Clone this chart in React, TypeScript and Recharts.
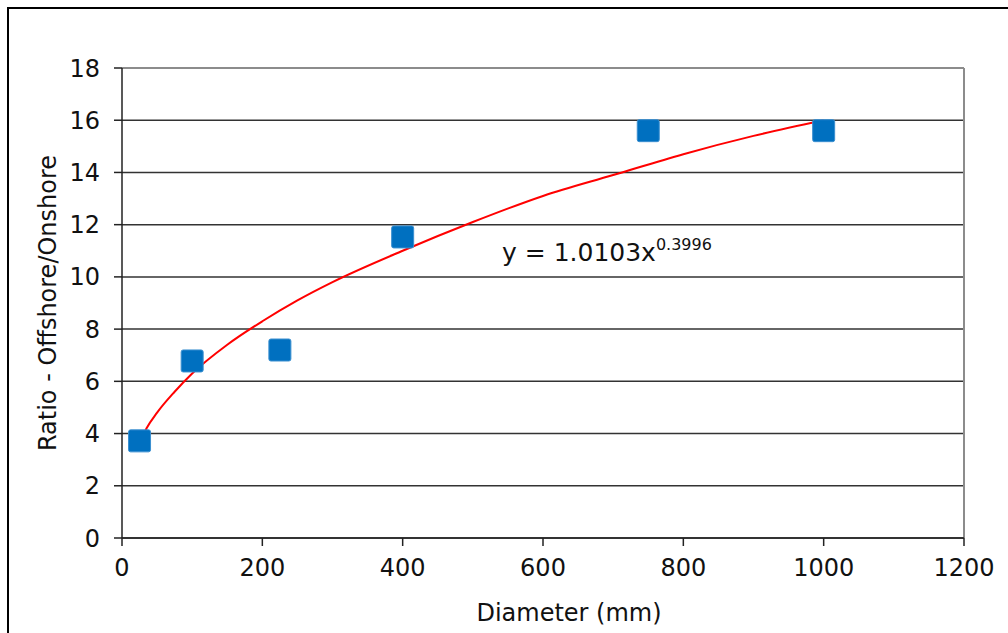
import React from "react";
import {
  ComposedChart,
  Line,
  Scatter,
  XAxis,
  YAxis,
  CartesianGrid,
  ReferenceLine,
  Label,
} from "recharts";

// measured points
const diameters = [25, 100, 225, 400, 750, 1000];
const ratios = [3.72, 6.78, 7.2, 11.53, 15.6, 15.6];

// power trend line
const trendX = [25, 35, 50, 75, 100, 150, 200, 250, 300, 400, 500, 600, 700, 800, 900, 1000];
const trendY = [3.6, 4.2, 4.8, 5.6, 6.3, 7.4, 8.3, 9.1, 9.8, 11.0, 12.1, 13.1, 13.9, 14.7, 15.4, 16.0];

const xTicks = [0, 200, 400, 600, 800, 1000, 1200];
const yTicks = [0, 2, 4, 6, 8, 10, 12, 14, 16, 18];

const FONT = "'DejaVu Sans', Verdana, sans-serif";

const points = diameters.map((d, i) => ({ x: d, y: ratios[i] }));
const trend = trendX.map((d, i) => ({ x: d, trend: trendY[i] }));

const Square = (props: any) => {
  const { cx, cy } = props;
  if (cx == null || cy == null) return null;
  return (
    <rect
      x={cx - 11}
      y={cy - 11}
      width={22}
      height={22}
      rx={2}
      fill="#0070C0"
      stroke="#3a8fd0"
      strokeWidth={1}
    />
  );
};

export default function App() {
  return (
    <div
      style={{
        position: "fixed",
        top: 0,
        left: 0,
        width: 1008,
        height: 633,
        background: "#fff",
        overflow: "hidden",
        fontFamily: FONT,
      }}
    >
      <div
        style={{
          position: "absolute",
          left: 7,
          top: 7,
          width: 1020,
          height: 640,
          borderLeft: "2px solid #000",
          borderTop: "2px solid #000",
        }}
      />
      <ComposedChart
        width={1008}
        height={633}
        margin={{ top: 68, right: 44, bottom: 0, left: 0 }}
        style={{ position: "absolute", left: 0, top: 0 }}
      >
        <CartesianGrid vertical={false} stroke="#333" strokeWidth={1.5} />
        <XAxis
          type="number"
          dataKey="x"
          domain={[0, 1200]}
          ticks={xTicks}
          height={95}
          tickSize={8}
          tickMargin={13}
          stroke="#222"
          strokeWidth={1.5}
          tick={{ fill: "#111", fontSize: 24, fontFamily: FONT }}
          allowDuplicatedCategory={false}
        >
          <Label
            value="Diameter (mm)"
            position="insideBottom"
            offset={12}
            dx={26}
            style={{ fill: "#111", fontSize: 24, fontFamily: FONT }}
          />
        </XAxis>
        <YAxis
          type="number"
          domain={[0, 18]}
          ticks={yTicks}
          width={122}
          tickSize={8}
          tickMargin={14}
          stroke="#222"
          strokeWidth={1.5}
          tick={{ fill: "#111", fontSize: 24, fontFamily: FONT }}
        >
          <Label
            value="Ratio - Offshore/Onshore"
            angle={-90}
            position="insideLeft"
            offset={47}
            style={{ fill: "#111", fontSize: 24, fontFamily: FONT, textAnchor: "middle" }}
          />
        </YAxis>
        <ReferenceLine y={18} stroke="#8c8c8c" strokeWidth={2} />
        <ReferenceLine x={1200} stroke="#8c8c8c" strokeWidth={2} />
        <Line
          data={trend}
          dataKey="trend"
          type="monotone"
          stroke="#ff0000"
          strokeWidth={2}
          dot={false}
          isAnimationActive={false}
        />
        <Scatter
          data={points}
          dataKey="y"
          shape={<Square />}
          isAnimationActive={false}
        />
      </ComposedChart>
      <div
        style={{
          position: "absolute",
          left: 502,
          top: 240,
          fontSize: 25,
          color: "#111",
          whiteSpace: "nowrap",
          lineHeight: 1,
        }}
      >
        y = 1.0103x
        <span style={{ fontSize: 16, position: "relative", top: -11 }}>0.3996</span>
      </div>
    </div>
  );
}
